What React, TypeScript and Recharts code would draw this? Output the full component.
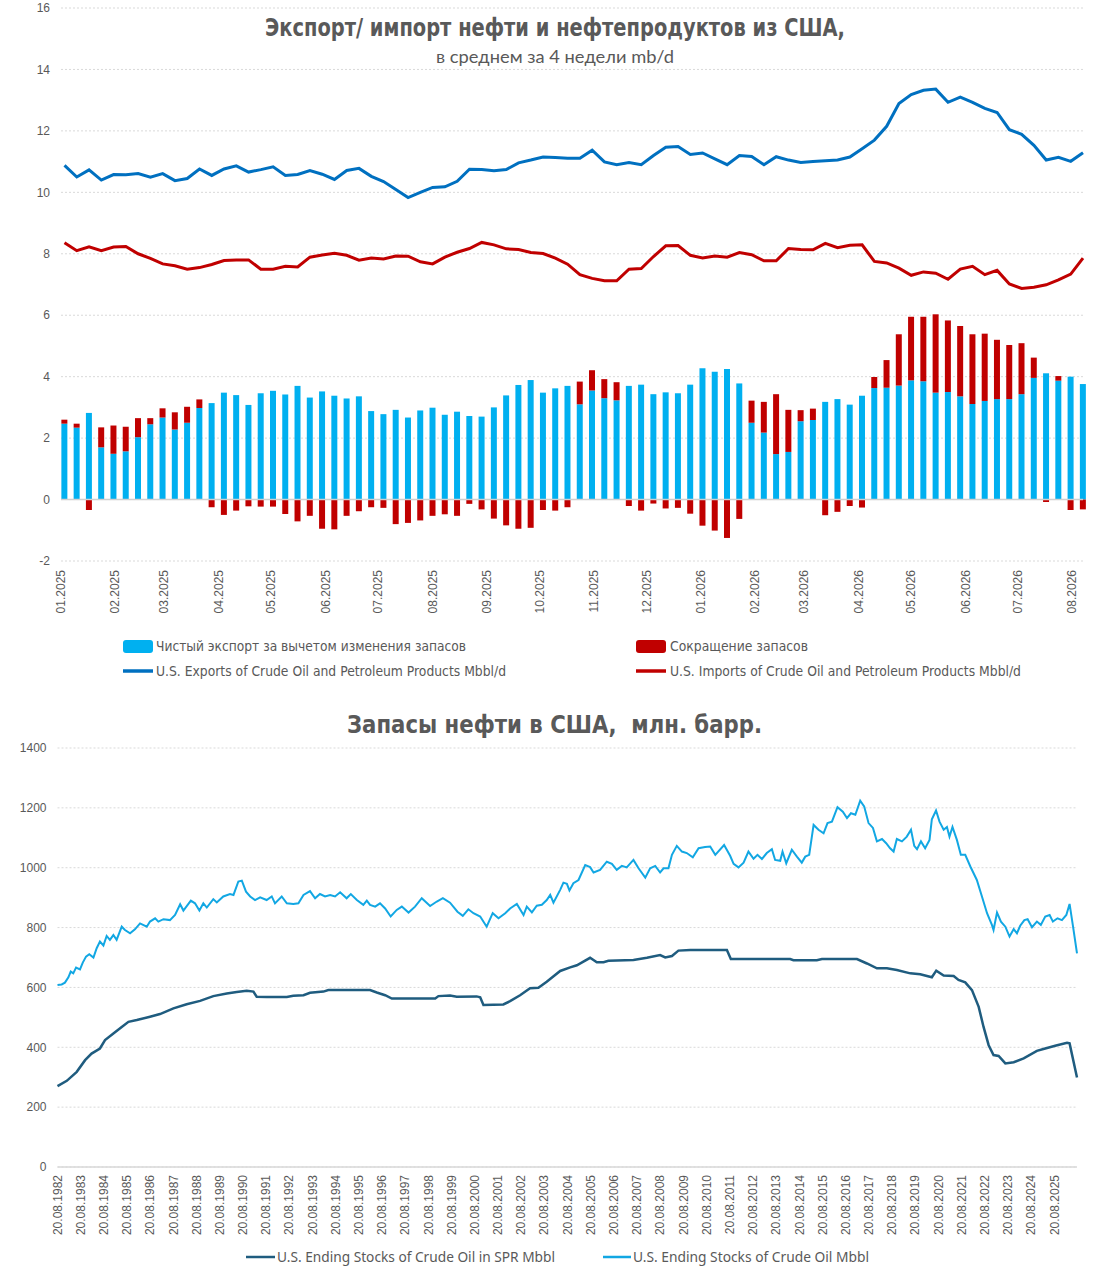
import React from "react";
import {
  ComposedChart,
  LineChart,
  Bar,
  Line,
  XAxis,
  YAxis,
  CartesianGrid,
  ReferenceLine,
} from "recharts";

// weekly values, first week 03.01.2025
const netExport = [
  2.47, 2.34, 2.82, 1.7, 1.49, 1.57, 2.03, 2.45, 2.67, 2.28,
  2.5, 2.98, 3.14, 3.48, 3.4, 3.08, 3.46, 3.54, 3.42, 3.7,
  3.32, 3.52, 3.38, 3.29, 3.36, 2.88, 2.78, 2.92, 2.67, 2.9,
  2.99, 2.76, 2.86, 2.72, 2.7, 3.0, 3.39, 3.73, 3.89, 3.48,
  3.62, 3.7, 3.1, 3.55, 3.3, 3.23, 3.7, 3.74, 3.43, 3.49,
  3.46, 3.74, 4.27, 4.16, 4.25, 3.78, 2.5, 2.18, 1.48, 1.55,
  2.55, 2.59, 3.18, 3.27, 3.09, 3.38, 3.63, 3.64, 3.71, 3.88,
  3.85, 3.48, 3.5, 3.36, 3.11, 3.21, 3.27, 3.27, 3.43, 3.96,
  4.11, 3.87, 4.0, 3.76,
];
const stockCut = [
  0.13, 0.13, -0.34, 0.65, 0.92, 0.8, 0.62, 0.2, 0.3, 0.56,
  0.52, 0.28, -0.25, -0.5, -0.36, -0.22, -0.23, -0.23, -0.47, -0.71,
  -0.53, -0.95, -0.97, -0.53, -0.38, -0.25, -0.27, -0.8, -0.76, -0.68,
  -0.53, -0.48, -0.53, -0.14, -0.32, -0.62, -0.84, -0.95, -0.92, -0.34,
  -0.36, -0.25, 0.74, 0.66, 0.62, 0.59, -0.21, -0.36, -0.13, -0.29,
  -0.27, -0.46, -0.85, -1.01, -1.25, -0.63, 0.72, 1.0, 1.95, 1.37,
  0.36, 0.37, -0.51, -0.4, -0.21, -0.26, 0.36, 0.9, 1.67, 2.07,
  2.1, 2.55, 2.33, 2.29, 2.27, 2.19, 1.93, 1.76, 1.66, 0.66,
  -0.08, 0.15, -0.34, -0.32,
];
const usExports = [
  10.88, 10.5, 10.73, 10.4, 10.58, 10.57, 10.61, 10.49, 10.61, 10.38,
  10.45, 10.76, 10.55, 10.76, 10.86, 10.66, 10.74, 10.83, 10.55, 10.58,
  10.71, 10.59, 10.42, 10.71, 10.78, 10.52, 10.35, 10.09, 9.83, 10.0,
  10.16, 10.18, 10.36, 10.75, 10.74, 10.7, 10.74, 10.96, 11.05, 11.15,
  11.13, 11.11, 11.11, 11.37, 10.99, 10.9, 10.97, 10.9, 11.2, 11.47,
  11.49, 11.23, 11.28, 11.09, 10.9, 11.2, 11.17, 10.9, 11.16, 11.05,
  10.97, 11.0, 11.03, 11.05, 11.15, 11.42, 11.7, 12.15, 12.89, 13.18,
  13.32, 13.36, 12.93, 13.1, 12.93, 12.73, 12.6, 12.04, 11.89, 11.53,
  11.05, 11.14, 11.01, 11.29,
];
const usImports = [
  8.36, 8.1, 8.23, 8.1, 8.22, 8.24, 8.0, 7.85, 7.67, 7.61,
  7.5, 7.55, 7.65, 7.78, 7.8, 7.8, 7.5, 7.5, 7.59, 7.57,
  7.89, 7.96, 8.02, 7.95, 7.79, 7.86, 7.83, 7.93, 7.92, 7.74,
  7.67, 7.89, 8.05, 8.17, 8.37, 8.29, 8.16, 8.14, 8.04, 8.01,
  7.86, 7.66, 7.32, 7.2, 7.12, 7.12, 7.5, 7.52, 7.91, 8.26,
  8.27, 7.95, 7.86, 7.93, 7.89, 8.04, 7.97, 7.77, 7.77, 8.17,
  8.14, 8.13, 8.34, 8.2, 8.28, 8.29, 7.75, 7.7, 7.53, 7.3,
  7.41, 7.37, 7.17, 7.5, 7.59, 7.32, 7.46, 7.02, 6.87, 6.91,
  6.99, 7.15, 7.34, 7.86,
];
const topTicks = [-2, 0, 2, 4, 6, 8, 10, 12, 14, 16];

// stocks, decimal years
const sprYears = [
  1982.63, 1983.03, 1983.46, 1983.82, 1984.1, 1984.46, 1984.68, 1985.04, 1985.4, 1985.69,
  1986.05, 1986.62, 1987.05, 1987.63, 1988.2, 1988.78, 1989.35, 1989.93, 1990.36, 1990.79,
  1991.08, 1991.22, 1991.65, 1992.52, 1992.8, 1993.24, 1993.52, 1994.1, 1994.31, 1996.11,
  1996.4, 1996.76, 1997.05, 1998.92, 1999.06, 1999.56, 1999.85, 2000.71, 2000.86, 2001.0,
  2001.86, 2002.15, 2002.58, 2003.01, 2003.37, 2003.73, 2004.31, 2004.74, 2005.03, 2005.6,
  2005.89, 2006.18, 2006.39, 2007.47, 2008.05, 2008.62, 2008.84, 2009.13, 2009.41, 2009.92,
  2011.5, 2011.67, 2014.23, 2014.37, 2015.38, 2015.6, 2017.11, 2017.54, 2017.97, 2018.4,
  2018.83, 2019.41, 2019.84, 2020.34, 2020.53, 2020.85, 2021.28, 2021.49, 2021.78, 2022.07,
  2022.36, 2022.57, 2022.79, 2023.0, 2023.22, 2023.51, 2023.87, 2024.3, 2024.87, 2025.23,
  2025.66, 2026.17, 2026.28, 2026.6,
];
const sprStocks = [
  270, 288, 318, 357, 379, 396, 424, 446, 468, 485,
  491, 502, 511, 530, 544, 555, 571, 580, 585, 589,
  586, 569, 568, 568, 572, 574, 582, 586, 591, 591,
  583, 574, 563, 563, 571, 573, 569, 570, 567, 541,
  543, 554, 574, 597, 599, 619, 655, 667, 674, 699,
  684, 684, 689, 692, 699, 708, 700, 705, 723, 725,
  725, 695, 695, 691, 691, 695, 695, 680, 664, 664,
  658, 647, 644, 634, 656, 640, 638, 625, 617, 591,
  535, 468, 407, 374, 371, 346, 350, 363, 388, 396,
  405, 415, 413, 299,
];
const totalYears = [
  1982.63, 1982.81, 1982.95, 1983.1, 1983.2, 1983.31, 1983.43, 1983.6, 1983.72, 1983.86,
  1984.0, 1984.18, 1984.32, 1984.46, 1984.61, 1984.75, 1984.89, 1985.04, 1985.18, 1985.4,
  1985.54, 1985.76, 1985.97, 1986.19, 1986.48, 1986.62, 1986.84, 1986.98, 1987.2, 1987.48,
  1987.7, 1987.92, 1988.06, 1988.38, 1988.56, 1988.75, 1988.92, 1989.07, 1989.35, 1989.5,
  1989.78, 1990.07, 1990.22, 1990.43, 1990.58, 1990.76, 1990.94, 1991.15, 1991.37, 1991.65,
  1991.87, 1992.01, 1992.3, 1992.52, 1992.8, 1993.02, 1993.24, 1993.52, 1993.74, 1993.95,
  1994.17, 1994.39, 1994.6, 1994.82, 1995.1, 1995.28, 1995.54, 1995.82, 1995.97, 1996.11,
  1996.33, 1996.54, 1996.76, 1997.0, 1997.26, 1997.48, 1997.77, 1998.05, 1998.34, 1998.7,
  1998.99, 1999.25, 1999.56, 1999.88, 2000.11, 2000.35, 2000.57, 2000.86, 2001.14, 2001.4,
  2001.65, 2001.94, 2002.15, 2002.44, 2002.73, 2002.87, 2003.09, 2003.3, 2003.52, 2003.73,
  2003.88, 2004.02, 2004.31, 2004.45, 2004.6, 2004.71, 2004.88, 2005.1, 2005.39, 2005.6,
  2005.75, 2006.03, 2006.32, 2006.54, 2006.75, 2006.97, 2007.18, 2007.47, 2007.69, 2007.98,
  2008.19, 2008.41, 2008.62, 2008.77, 2008.98, 2009.13, 2009.34, 2009.56, 2009.77, 2010.03,
  2010.28, 2010.56, 2010.78, 2011.0, 2011.38, 2011.64, 2011.79, 2012.0, 2012.22, 2012.43,
  2012.65, 2012.82, 2013.01, 2013.22, 2013.44, 2013.58, 2013.8, 2013.9, 2014.06, 2014.3,
  2014.52, 2014.73, 2014.88, 2015.05, 2015.24, 2015.45, 2015.67, 2015.84, 2016.03, 2016.27,
  2016.5, 2016.68, 2016.85, 2017.04, 2017.25, 2017.42, 2017.61, 2017.8, 2017.97, 2018.19,
  2018.37, 2018.54, 2018.69, 2018.83, 2019.05, 2019.26, 2019.44, 2019.58, 2019.7, 2019.87,
  2020.05, 2020.24, 2020.34, 2020.52, 2020.67, 2020.85, 2020.99, 2021.1, 2021.23, 2021.42,
  2021.59, 2021.78, 2022.0, 2022.28, 2022.5, 2022.72, 2022.93, 2023.0, 2023.15, 2023.32,
  2023.51, 2023.69, 2023.87, 2024.01, 2024.15, 2024.33, 2024.47, 2024.66, 2024.87, 2025.04,
  2025.23, 2025.42, 2025.56, 2025.76, 2025.95, 2026.14, 2026.28, 2026.43, 2026.6,
];
const totalStocks = [
  608, 610, 616, 634, 653, 647, 666, 660, 683, 703,
  711, 700, 731, 753, 740, 772, 759, 775, 759, 803,
  792, 781, 794, 814, 803, 820, 831, 820, 828, 825,
  842, 878, 857, 890, 881, 857, 881, 867, 895, 884,
  904, 912, 909, 954, 957, 920, 904, 892, 901, 892,
  904, 881, 904, 881, 879, 881, 909, 922, 898, 912,
  904, 909, 904, 918, 898, 912, 892, 876, 890, 876,
  870, 881, 864, 837, 859, 870, 850, 870, 898, 872,
  887, 898, 883, 853, 839, 861, 848, 837, 803, 848,
  831, 848, 864, 879, 842, 870, 851, 873, 876, 892,
  909, 883, 926, 950, 946, 924, 948, 959, 1009, 1002,
  984, 993, 1020, 1013, 993, 1006, 1001, 1026, 998, 967,
  998, 1006, 984, 998, 998, 1043, 1073, 1054, 1049, 1035,
  1065, 1069, 1071, 1043, 1076, 1040, 1013, 1001, 1017, 1054,
  1030, 1043, 1029, 1049, 1062, 1026, 1023, 1054, 1015, 1060,
  1037, 1017, 1037, 1043, 1143, 1127, 1115, 1149, 1154, 1202,
  1187, 1166, 1182, 1177, 1224, 1205, 1149, 1133, 1088, 1096,
  1082, 1065, 1054, 1096, 1088, 1104, 1127, 1073, 1062, 1088,
  1065, 1093, 1162, 1191, 1154, 1127, 1136, 1104, 1136, 1093,
  1043, 1043, 1004, 959, 904, 848, 809, 792, 850, 820,
  803, 770, 795, 781, 806, 825, 828, 801, 820, 809,
  837, 842, 820, 831, 825, 842, 879, 803, 714,
];
const stockTicks = [0, 200, 400, 600, 800, 1000, 1200, 1400];

const DAY = 86400000;
const axisStart = Date.UTC(2025, 0, 1);
const firstWeek = Date.UTC(2025, 0, 3);
const monthTicks = Array.from({ length: 20 }, (_, k) => (Date.UTC(2025, k, 1) - axisStart) / DAY);
const yearTicks = Array.from({ length: 44 }, (_, k) => 1982.633 + k);

const weekData = netExport.map((v, i) => ({
  day: (firstWeek - axisStart) / DAY + 7 * i,
  net: v,
  cut: stockCut[i],
  exp: usExports[i],
  imp: usImports[i],
}));
const sprData = sprYears.map((t, i) => ({ t, v: sprStocks[i] }));
const totalData = totalYears.map((t, i) => ({ t, v: totalStocks[i] }));

const GRAY = "#595959";
const TICK_FONT = "'Liberation Sans', Arial, sans-serif";
const NARROW = "'Liberation Sans Narrow', 'DejaVu Sans Condensed', Roboto, sans-serif";

const monthLabel = (v: number) => {
  const d = new Date(axisStart + v * DAY);
  return `${String(d.getUTCMonth() + 1).padStart(2, "0")}.${d.getUTCFullYear()}`;
};
const yearLabel = (v: number) => `20.08.${Math.floor(v)}`;

const RotTick = (props: any) => {
  const { x, y, payload, fmt } = props;
  return (
    <text
      x={x}
      y={y}
      transform={`rotate(-90 ${x} ${y})`}
      textAnchor="end"
      dominantBaseline="central"
      fontSize={12}
      fill={GRAY}
      fontFamily={TICK_FONT}
    >
      {fmt(payload.value)}
    </text>
  );
};

const Label = ({ x, y, w, size, bold, family, children }: any) => (
  <text
    x={x}
    y={y}
    fontSize={size}
    fontWeight={bold ? 700 : 400}
    fontFamily={family}
    fill={GRAY}
    textLength={w}
    lengthAdjust="spacingAndGlyphs"
    style={{ whiteSpace: "pre" }}
  >
    {children}
  </text>
);

export default function App() {
  return (
    <div style={{ position: "absolute", left: 0, top: 0, width: 1111, height: 1280, background: "#fff" }}>
      <div style={{ position: "absolute", left: 0, top: 0 }}>
        <ComposedChart
          width={1111}
          height={625}
          data={weekData}
          stackOffset="sign"
          margin={{ top: 8, right: 28, bottom: 4, left: 0 }}
        >
          <CartesianGrid vertical={false} stroke="#d9d9d9" strokeDasharray="2 2" />
          <XAxis
            dataKey="day"
            type="number"
            domain={[0, 583]}
            ticks={monthTicks}
            interval={0}
            axisLine={false}
            tickLine={false}
            tickSize={0}
            tickMargin={9}
            height={60}
            tick={<RotTick fmt={monthLabel} />}
          />
          <YAxis
            domain={[-2, 16]}
            ticks={topTicks}
            width={61}
            axisLine={false}
            tickLine={false}
            tickSize={0}
            tickMargin={11}
            tick={{ fontSize: 12, fill: GRAY, fontFamily: TICK_FONT }}
          />
          <Bar dataKey="net" stackId="s" fill="#00B0F0" barSize={6} isAnimationActive={false} />
          <Bar dataKey="cut" stackId="s" fill="#C00000" barSize={6} isAnimationActive={false} />
          <ReferenceLine y={0} stroke="#d0d0d0" strokeWidth={1.5} />
          <Line dataKey="exp" type="linear" stroke="#0070C0" strokeWidth={3} dot={false} isAnimationActive={false} />
          <Line dataKey="imp" type="linear" stroke="#C00000" strokeWidth={3} dot={false} isAnimationActive={false} />
        </ComposedChart>
      </div>

      <div style={{ position: "absolute", left: 0, top: 740 }}>
        <LineChart width={1111} height={500} margin={{ top: 8, right: 34, bottom: 3, left: 0 }}>
          <CartesianGrid vertical={false} stroke="#d9d9d9" strokeDasharray="2 2" />
          <XAxis
            dataKey="t"
            type="number"
            domain={[1982.63, 2026.6]}
            ticks={yearTicks}
            interval={0}
            axisLine={{ stroke: "#d9d9d9", strokeWidth: 1.5 }}
            tickLine={false}
            tickSize={0}
            tickMargin={8}
            height={70}
            tick={<RotTick fmt={yearLabel} />}
          />
          <YAxis
            domain={[0, 1400]}
            ticks={stockTicks}
            width={57.5}
            axisLine={false}
            tickLine={false}
            tickSize={0}
            tickMargin={11}
            tick={{ fontSize: 12, fill: GRAY, fontFamily: TICK_FONT }}
          />
          <Line data={sprData} dataKey="v" type="linear" stroke="#1F5C7F" strokeWidth={2.5} dot={false} isAnimationActive={false} />
          <Line data={totalData} dataKey="v" type="linear" stroke="#12A7E3" strokeWidth={2} dot={false} isAnimationActive={false} />
        </LineChart>
      </div>

      <svg width={1111} height={1280} style={{ position: "absolute", left: 0, top: 0, pointerEvents: "none" }}>
        <Label x={265} y={36} w={580} size={24} bold family={NARROW}>
          Экспорт/ импорт нефти и нефтепродуктов из США,
        </Label>
        <Label x={436} y={63} w={238} size={18} family="Lato, 'Open Sans', sans-serif">
          в среднем за 4 недели mb/d
        </Label>

        <rect x={123} y={640} width={30} height={13} rx={3} fill="#00B0F0" />
        <Label x={156} y={651} w={310} size={14} family={NARROW}>
          Чистый экспорт за вычетом изменения запасов
        </Label>
        <rect x={636} y={640} width={30} height={13} rx={3} fill="#C00000" />
        <Label x={670} y={651} w={138} size={14} family={NARROW}>
          Сокращение запасов
        </Label>
        <line x1={123} x2={153} y1={671} y2={671} stroke="#0070C0" strokeWidth={3.5} />
        <Label x={156} y={676} w={350} size={14} family={NARROW}>
          U.S. Exports of Crude Oil and Petroleum Products Mbbl/d
        </Label>
        <line x1={636} x2={666} y1={671} y2={671} stroke="#C00000" strokeWidth={3.5} />
        <Label x={670} y={676} w={351} size={14} family={NARROW}>
          U.S. Imports of Crude Oil and Petroleum Products Mbbl/d
        </Label>

        <Label x={347} y={733} w={415} size={24} bold family={NARROW}>
          Запасы нефти в США,  млн. барр.
        </Label>

        <line x1={246} x2={275} y1={1257} y2={1257} stroke="#1F5C7F" strokeWidth={2.5} />
        <Label x={277} y={1262} w={278} size={15} family="'Noto Sans', 'Open Sans', sans-serif">
          U.S. Ending Stocks of Crude Oil in SPR Mbbl
        </Label>
        <line x1={603} x2={631} y1={1257} y2={1257} stroke="#12A7E3" strokeWidth={2.5} />
        <Label x={633} y={1262} w={236} size={15} family="'Noto Sans', 'Open Sans', sans-serif">
          U.S. Ending Stocks of Crude Oil Mbbl
        </Label>
      </svg>
    </div>
  );
}
